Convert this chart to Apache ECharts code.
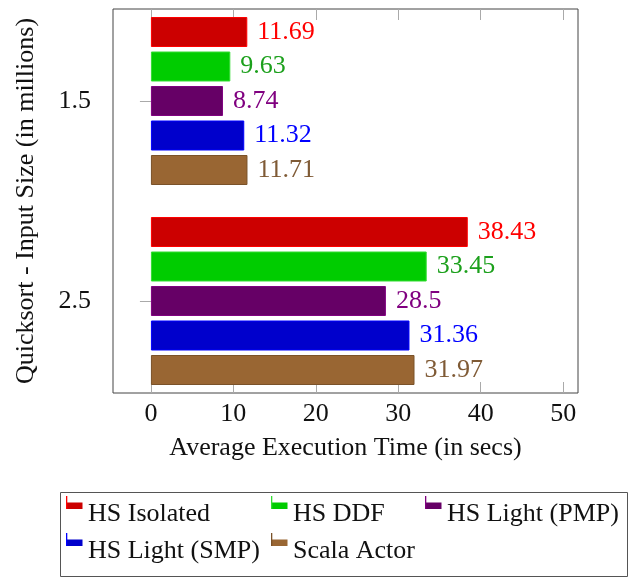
<!DOCTYPE html>
<html>
<head>
<meta charset="utf-8">
<script src="https://cdn.jsdelivr.net/npm/echarts@6/dist/echarts.min.js"></script>
<style>
html,body{margin:0;padding:0;background:#fff;}
#chart{width:631px;height:577px;}
</style>
</head>
<body>
<div id="chart"></div>
<script>
// ---- data ----
const categories = ['1.5', '2.5'];
const seriesNames = ['HS Isolated', 'HS DDF', 'HS Light (PMP)', 'HS Light (SMP)', 'Scala Actor'];
const hsIsolated = [11.69, 38.43];
const hsDDF = [9.63, 33.45];
const hsLightPMP = [8.74, 28.5];
const hsLightSMP = [11.32, 31.36];
const scalaActor = [11.71, 31.97];
const xTickValues = [0, 10, 20, 30, 40, 50];
const yTickValues = [1.5, 2.5];
const xTitle = 'Average Execution Time (in secs)';
const yTitle = 'Quicksort - Input Size (in millions)';

// ---- styles ----
const FONT = 'Liberation Serif';
const FS = 26;
const fills = ['#cc0000', '#00cc00', '#660066', '#0000cc', '#996633'];
const borders = ['#ff0000', '#33dd33', '#800080', '#0000ff', '#7a5229'];
const labelColors = ['#ff0000', '#1ca01c', '#800080', '#0000ff', '#7f5a35'];
const allData = [hsIsolated, hsDDF, hsLightPMP, hsLightSMP, scalaActor];

const XMIN = -4.6, XMAX = 51.8;
const gridLeft = 113, gridWidth = 465;

const chart = echarts.init(document.getElementById('chart'), null, {renderer: 'canvas'});

const series = seriesNames.map((name, i) => ({
  name: name,
  type: 'bar',
  xAxisIndex: 0,
  yAxisIndex: 0,
  data: allData[i],
  barWidth: 30,
  barGap: '15%',
  itemStyle: {color: fills[i], borderColor: borders[i], borderWidth: 1},
  label: {
    show: true, position: 'right', distance: 10,
    color: labelColors[i], fontFamily: FONT, fontSize: FS
  },
  emphasis: {disabled: true},
  animation: false
}));

function flagIcon(fill, stroke) {
  const svg = '<svg xmlns="http://www.w3.org/2000/svg" width="17" height="36" viewBox="0 0 17 36">' +
    '<rect x="0.5" y="6.5" width="16" height="6.5" fill="' + fill + '"/>' +
    '<rect x="0" y="0" width="1.3" height="13" fill="' + stroke + '"/>' +
    '</svg>';
  return 'image://data:image/svg+xml;charset=utf-8,' + encodeURIComponent(svg);
}

const legendPos = [
  {left: 66, top: 496},
  {left: 271, top: 496},
  {left: 425, top: 496},
  {left: 66, top: 533},
  {left: 271, top: 533}
];
const legends = seriesNames.map((name, i) => ({
  show: true,
  data: [{name: name, icon: flagIcon(fills[i], borders[i])}],
  left: legendPos[i].left,
  top: legendPos[i].top,
  padding: 0,
  itemWidth: 17,
  itemHeight: 36,
  itemGap: 0,
  selectedMode: false,
  textStyle: {fontFamily: FONT, fontSize: FS, color: '#111'}
}));

const tickStyle = {color: '#aaaaaa', width: 1};

const option = {
  animation: false,
  backgroundColor: '#ffffff',
  grid: [
    {left: gridLeft, width: gridWidth, top: 1, height: 400, containLabel: false, show: false},
    {left: gridLeft, width: gridWidth, top: 9, height: 384, containLabel: false, show: true,
     borderColor: '#444', borderWidth: 1, backgroundColor: 'transparent', z: 0}
  ],
  xAxis: [
    {gridIndex: 0, type: 'value', min: XMIN, max: XMAX, show: false},
    {gridIndex: 1, type: 'value', min: XMIN, max: XMAX, position: 'bottom',
     axisLine: {show: false}, splitLine: {show: false},
     axisTick: {show: true, inside: true, length: 11, lineStyle: tickStyle, customValues: xTickValues},
     axisLabel: {show: true, margin: 8, fontFamily: FONT, fontSize: FS, color: '#111', customValues: xTickValues},
     name: xTitle, nameLocation: 'middle', nameGap: 42,
     nameTextStyle: {fontFamily: FONT, fontSize: FS, color: '#111'}},
    {gridIndex: 1, type: 'value', min: XMIN, max: XMAX, position: 'top',
     axisLine: {show: false}, splitLine: {show: false},
     axisTick: {show: true, inside: true, length: 11, lineStyle: tickStyle, customValues: xTickValues},
     axisLabel: {show: false}}
  ],
  yAxis: [
    {gridIndex: 0, type: 'category', data: categories, inverse: true, show: false},
    {gridIndex: 1, type: 'value', min: 1.04, max: 2.96, inverse: true, position: 'left',
     axisLine: {show: false}, splitLine: {show: false},
     axisTick: {show: true, inside: false, length: 11, lineStyle: tickStyle, customValues: yTickValues},
     axisLabel: {show: true, margin: 22, fontFamily: FONT, fontSize: FS, color: '#111',
       customValues: yTickValues, formatter: v => v.toFixed(1)},
     name: yTitle, nameLocation: 'middle', nameGap: 74, nameRotate: 90,
     nameTextStyle: {fontFamily: FONT, fontSize: FS, color: '#111'}},
    {gridIndex: 1, type: 'value', min: 1.04, max: 2.96, inverse: true, position: 'right',
     axisLine: {show: false}, splitLine: {show: false},
     axisTick: {show: true, inside: false, length: 11, lineStyle: tickStyle, customValues: yTickValues},
     axisLabel: {show: false}}
  ],
  legend: legends,
  graphic: [
    {type: 'rect', left: 58, top: 490, shape: {x: 0, y: 0, width: 567, height: 84},
     style: {fill: 'none', stroke: '#555', lineWidth: 1}, silent: true}
  ],
  series: series
};
chart.setOption(option);
</script>
</body>
</html>
